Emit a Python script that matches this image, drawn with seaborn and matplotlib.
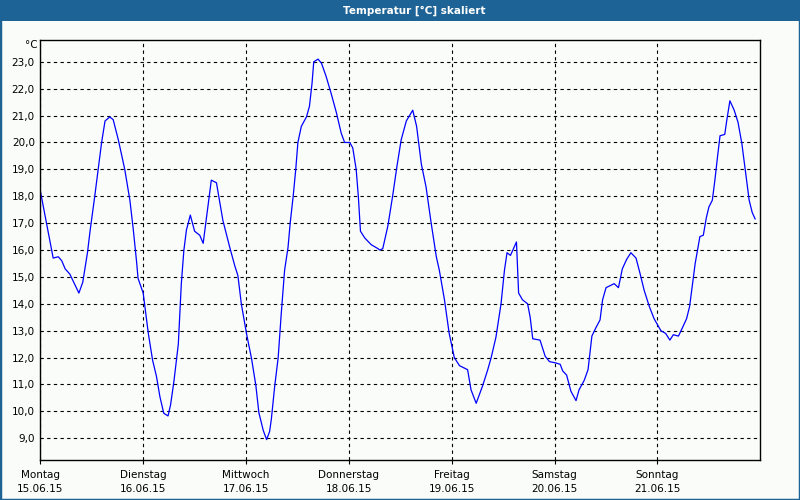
import pandas as pd
import matplotlib
matplotlib.use("Agg")
import matplotlib.pyplot as plt
import matplotlib.ticker as mticker
from matplotlib.patches import Rectangle
import seaborn as sns

# -----------------------------
# Data (hours since Monday 00:00, temperature in °C)
# -----------------------------
hours = [
    0.0, 3.0, 4.2, 5.0, 5.8, 6.9, 9.0, 9.9, 11.0, 11.6, 12.7, 13.5, 14.3, 15.1, 16.2, 17.0,
    18.2, 19.7, 20.9, 21.7, 22.5, 22.8, 24.0, 25.2, 26.2, 27.1, 27.9, 28.8, 29.8, 30.4, 31.2,
    32.2, 32.9, 33.5, 34.1, 35.0, 36.0, 37.2, 38.0, 39.9, 41.1, 42.6, 44.2, 45.4, 46.1, 46.9,
    48.1, 49.3, 50.3, 51.0, 52.0, 52.8, 53.5, 53.9, 54.7, 55.5, 56.2, 57.0, 57.8, 58.3, 59.0,
    59.6, 60.1, 60.9, 62.1, 62.8, 63.4, 63.8, 64.8, 65.6, 66.7, 67.9, 69.1, 70.2, 71.0, 72.2,
    72.9, 73.7, 74.2, 74.7, 75.7, 77.2, 78.8, 79.2, 79.9, 81.1, 82.2, 83.2, 84.2, 85.4, 86.9,
    87.8, 88.9, 90.0, 91.2, 92.4, 93.1, 94.3, 95.4, 96.6, 97.8, 99.7, 100.5, 101.7, 103.2,
    104.4, 105.2, 106.3, 107.5, 108.3, 108.9, 109.7, 111.1, 111.6, 112.5, 113.7, 114.3, 114.9,
    116.6, 117.8, 118.8, 120.3, 121.3, 121.9, 122.8, 123.8, 125.0, 125.7, 126.9, 127.8, 128.7,
    129.6, 130.6, 131.2, 132.0, 133.9, 134.9, 135.8, 136.8, 137.8, 139.0, 139.9, 140.9, 142.1,
    143.2, 144.8, 145.9, 146.9, 147.7, 148.9, 149.8, 150.8, 151.5, 152.2, 152.8, 153.3, 153.9,
    154.7, 155.4, 156.0, 156.8, 157.4, 158.0, 158.6, 159.7, 160.2, 160.9, 161.9, 162.8, 163.7,
    164.6, 165.4, 166.1, 166.8,
]
temps = [
    18.2, 15.7, 15.75, 15.6, 15.3, 15.1, 14.4, 14.8, 15.9, 16.7, 18.0, 19.0, 20.0, 20.8, 20.95, 20.85,
    20.1, 19.0, 17.85, 16.75, 15.5, 14.95, 14.4, 12.9, 11.9, 11.3, 10.55, 9.93, 9.83, 10.25, 11.15,
    12.5, 14.75, 16.0, 16.75, 17.3, 16.7, 16.55, 16.25, 18.6, 18.5, 17.1, 16.1, 15.4, 15.05, 14.0,
    12.9, 11.95, 10.95, 9.95, 9.3, 8.95, 9.25, 9.7, 10.95, 12.0, 13.6, 15.25, 16.1, 17.0, 18.0,
    19.0, 20.0, 20.6, 20.95, 21.35, 22.2, 23.0, 23.1, 22.95, 22.45, 21.8, 21.1, 20.35, 20.0, 20.0,
    19.8, 19.0, 18.0, 16.7, 16.45, 16.2, 16.05, 16.0, 16.05, 16.9, 18.0, 19.1, 20.1, 20.8, 21.2,
    20.6, 19.2, 18.35, 17.0, 15.75, 15.25, 14.15, 12.9, 12.0, 11.7, 11.55, 10.8, 10.3, 10.95,
    11.55, 12.0, 12.75, 14.0, 15.25, 15.9, 15.8, 16.3, 14.4, 14.15, 14.0, 13.5, 12.7,
    12.65, 12.05, 11.85, 11.8, 11.75, 11.5, 11.35, 10.75, 10.4, 10.8, 11.15, 11.55, 12.8,
    13.1, 13.4, 14.15, 14.6, 14.75, 14.6, 15.3, 15.65, 15.9, 15.7, 15.15, 14.5, 13.9,
    13.45, 13.0, 12.9, 12.65, 12.85, 12.8, 13.1, 13.45, 13.9, 14.75, 15.5, 15.95, 16.5,
    16.55, 17.2, 17.6, 17.85, 18.6, 19.45, 20.25, 20.3, 20.85, 21.55, 21.2, 20.75, 19.95,
    18.85, 17.85, 17.4, 17.15,
]
day_names = ["Montag", "Dienstag", "Mittwoch", "Donnerstag", "Freitag", "Samstag", "Sonntag"]
day_dates = ["15.06.15", "16.06.15", "17.06.15", "18.06.15", "19.06.15", "20.06.15", "21.06.15"]
y_ticks = list(range(9, 24))

df = pd.DataFrame({"hour": hours, "temp": temps})

# -----------------------------
# Style
# -----------------------------
sns.set_style("white")
plt.rcParams["font.family"] = ["DejaVu Sans"]
plt.rcParams["text.color"] = "black"
plt.rcParams["xtick.color"] = "black"
plt.rcParams["ytick.color"] = "black"
bg = "#FAFCFA"
bar_color = "#1E6396"

fig = plt.figure(figsize=(8, 5), dpi=100, facecolor=bg)
ax = fig.add_axes([0.0504, 0.0794, 0.90, 0.84], facecolor=bg)

sns.lineplot(data=df, x="hour", y="temp", ax=ax, color="#0000FF",
             linewidth=0.9, estimator=None, sort=False)

ax.set_xlim(0, 168)
ax.set_ylim(8.18, 23.8)

# ticks and grid
ax.set_xticks([24 * i for i in range(7)])
ax.set_xticklabels([f"{n}\n{d}" for n, d in zip(day_names, day_dates)],
                   fontsize=7.5, linespacing=1.5)
ax.set_yticks(y_ticks)
ax.yaxis.set_major_formatter(mticker.FuncFormatter(lambda v, p: f"{v:.1f}".replace(".", ",")))
ax.tick_params(axis="y", labelsize=7.5, length=0, pad=4, labelcolor="black")
ax.tick_params(axis="x", length=3, width=0.8, pad=4, color="black", direction="out",
               bottom=True, labelcolor="black")
ax.grid(True, color="black", linestyle=(0, (3, 3)), linewidth=0.8)
ax.set_xlabel("")
ax.set_ylabel("")
for s in ax.spines.values():
    s.set_color("black")
    s.set_linewidth(1.0)

ax.text(-0.004, 1.0, "°C", transform=ax.transAxes, ha="right", va="top", fontsize=7.5,
        color="black")

# title bar
fig.patches.append(Rectangle((0, 1 - 21 / 500), 1, 21 / 500, transform=fig.transFigure,
                             facecolor=bar_color, edgecolor="none", zorder=0))
fig.patches.append(Rectangle((0, 0), 1, 1, transform=fig.transFigure,
                             facecolor="none", edgecolor=bar_color, linewidth=2.5, zorder=0))
fig.text(0.5175, 1 - 10.5 / 500, "Temperatur [°C] skaliert", color="white",
         fontsize=7.5, fontweight="bold", ha="center", va="center")

fig.savefig("out.png", dpi=100, facecolor=bg)
